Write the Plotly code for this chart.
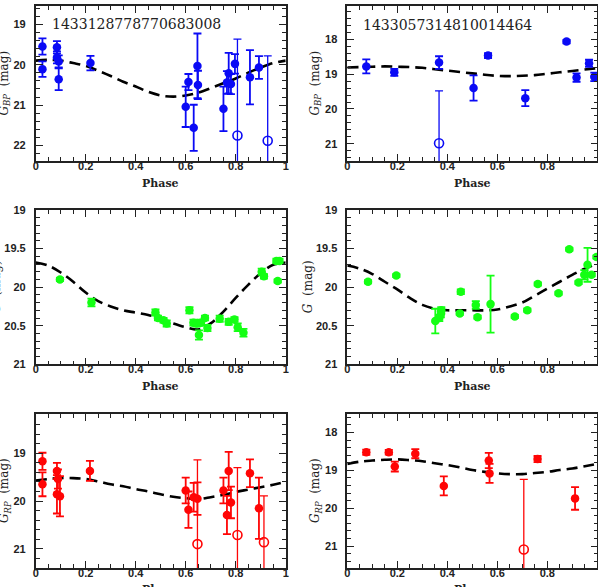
import plotly.graph_objects as go

W, H = 598, 587

# ---------------- data ----------------
phase_grid = [0.00, 0.05, 0.10, 0.15, 0.20, 0.25, 0.30, 0.35, 0.40, 0.45, 0.50,
              0.55, 0.60, 0.65, 0.70, 0.75, 0.80, 0.85, 0.90, 0.95, 1.00]

# star 1433128778770683008
bp1_phase = [0.027, 0.027, 0.085, 0.085, 0.092, 0.092, 0.219, 0.600, 0.611, 0.632,
             0.647, 0.649, 0.751, 0.765, 0.772, 0.781, 0.797, 0.857, 0.893]
bp1_mag = [19.55, 20.11, 19.57, 19.82, 19.92, 20.36, 19.96, 21.04, 20.43, 21.56,
           20.03, 20.50, 21.09, 20.44, 20.21, 20.48, 19.98, 20.31, 20.07]
bp1_err = [0.20, 0.19, 0.15, 0.15, 0.15, 0.27, 0.18, 0.50, 0.20, 0.57,
           0.80, 0.35, 0.55, 0.28, 0.50, 0.25, 0.24, 0.67, 0.28]
bp1_open_phase = [0.807, 0.928]
bp1_open_mag = [21.75, 21.88]
bp1_open_err = [2.38, 2.10]
bp1_model = [19.90, 19.88, 19.90, 19.96, 20.03, 20.15, 20.28, 20.42, 20.54, 20.67, 20.76,
             20.79, 20.76, 20.69, 20.58, 20.46, 20.34, 20.20, 20.07, 19.96, 19.90]

g1_phase = [0.097, 0.223, 0.479, 0.489, 0.511, 0.524, 0.615, 0.631, 0.644, 0.653, 0.661,
            0.677, 0.687, 0.736, 0.772, 0.795, 0.808, 0.831, 0.904, 0.913, 0.963, 0.975, 0.968]
g1_mag = [19.90, 20.20, 20.33, 20.40, 20.43, 20.47, 20.30, 20.46, 20.47, 20.62, 20.46,
          20.40, 20.53, 20.41, 20.45, 20.42, 20.52, 20.59, 19.80, 19.86, 19.66, 19.66, 19.92]
g1_err = [0.02, 0.05, 0.04, 0.03, 0.03, 0.04, 0.04, 0.04, 0.04, 0.06, 0.04,
          0.03, 0.04, 0.04, 0.04, 0.03, 0.05, 0.05, 0.04, 0.03, 0.03, 0.03, 0.02]
g1_model = [19.68, 19.72, 19.81, 19.93, 20.07, 20.18, 20.25, 20.30, 20.33, 20.36, 20.41,
            20.47, 20.52, 20.55, 20.47, 20.32, 20.14, 19.97, 19.82, 19.71, 19.68]

rp1_phase = [0.027, 0.027, 0.085, 0.089, 0.085, 0.097, 0.217, 0.600, 0.611, 0.632,
             0.647, 0.751, 0.765, 0.772, 0.781, 0.857, 0.893]
rp1_mag = [19.17, 19.65, 19.37, 19.54, 19.86, 19.90, 19.37, 19.78, 20.18, 19.92,
           19.95, 19.78, 20.29, 19.37, 20.03, 19.42, 20.15]
rp1_err = [0.18, 0.25, 0.17, 0.20, 0.40, 0.42, 0.21, 0.27, 0.38, 0.30,
           0.34, 0.27, 0.40, 0.40, 0.33, 0.29, 0.64]
rp1_open_phase = [0.647, 0.807, 0.913]
rp1_open_mag = [20.90, 20.71, 20.86]
rp1_open_err = [1.76, 1.41, 0.97]
rp1_model = [19.57, 19.54, 19.52, 19.52, 19.54, 19.59, 19.65, 19.69, 19.75, 19.80, 19.86,
             19.91, 19.94, 19.96, 19.92, 19.87, 19.81, 19.76, 19.71, 19.66, 19.60]

# star 1433057314810014464
bp2_phase = [0.076, 0.188, 0.367, 0.505, 0.563, 0.712, 0.877, 0.917, 0.967, 0.988]
bp2_mag = [18.78, 18.95, 18.67, 19.40, 18.47, 19.69, 18.07, 19.10, 18.69, 19.08]
bp2_err = [0.20, 0.10, 0.18, 0.36, 0.07, 0.23, 0.05, 0.12, 0.10, 0.12]
bp2_open_phase = [0.367]
bp2_open_mag = [20.98]
bp2_open_err = [1.50]
bp2_model = [18.81, 18.80, 18.79, 18.78, 18.79, 18.80, 18.82, 18.86, 18.90, 18.94, 18.98,
             19.02, 19.05, 19.06, 19.05, 19.03, 18.99, 18.95, 18.91, 18.87, 18.83]

g2_phase = [0.083, 0.196, 0.352, 0.368, 0.374, 0.376, 0.450, 0.454, 0.514, 0.521, 0.573,
            0.670, 0.720, 0.762, 0.845, 0.888, 0.925, 0.948, 0.961, 0.977, 0.997]
g2_mag = [19.93, 19.85, 20.44, 20.40, 20.35, 20.30, 20.34, 20.06, 20.23, 20.39, 20.22,
          20.38, 20.30, 19.96, 20.08, 19.51, 19.94, 19.84, 19.71, 19.84, 19.61]
g2_err = [0.02, 0.02, 0.16, 0.04, 0.04, 0.04, 0.02, 0.03, 0.05, 0.02, 0.37,
          0.02, 0.02, 0.02, 0.02, 0.02, 0.02, 0.06, 0.22, 0.02, 0.02]
g2_model = [19.72, 19.76, 19.83, 19.93, 20.03, 20.14, 20.23, 20.28, 20.30, 20.30, 20.30,
            20.30, 20.29, 20.25, 20.20, 20.11, 20.02, 19.93, 19.84, 19.76, 19.70]

rp2_phase = [0.076, 0.166, 0.190, 0.272, 0.386, 0.566, 0.569, 0.761, 0.911]
rp2_mag = [18.52, 18.52, 18.90, 18.56, 19.41, 18.74, 19.08, 18.70, 19.74]
rp2_err = [0.07, 0.06, 0.13, 0.12, 0.25, 0.20, 0.25, 0.08, 0.30]
rp2_open_phase = [0.706]
rp2_open_mag = [21.09]
rp2_open_err = [1.85]
rp2_model = [18.83, 18.77, 18.74, 18.72, 18.71, 18.73, 18.76, 18.81, 18.86, 18.92, 18.99,
             19.04, 19.08, 19.10, 19.10, 19.07, 19.04, 18.99, 18.95, 18.89, 18.83]

star_ids = ["1433128778770683008", "1433057314810014464"]

BLUE, GREEN, RED = "#0a0af5", "#14ff14", "#ff0505"
INK = "#222222"


def px_x(v):
    return v / W


def px_y(v):
    return 1 - v / H


panels = [
    dict(p=bp1_phase, m=bp1_mag, e=bp1_err, op=bp1_open_phase, om=bp1_open_mag, oe=bp1_open_err,
         model=bp1_model, c=BLUE, yr=[22.38, 18.55], yt=[19, 20, 21, 22], ym=0.2,
         xpx=(35.7, 285.7), ypx=(6, 161), title="<i>G</i><sub><i>BP</i></sub>  (mag)", tx=5),
    dict(p=bp2_phase, m=bp2_mag, e=bp2_err, op=bp2_open_phase, om=bp2_open_mag, oe=bp2_open_err,
         model=bp2_model, c=BLUE, yr=[21.49, 17.05], yt=[18, 19, 20, 21], ym=0.2,
         xpx=(347.3, 597.3), ypx=(6, 161), title="<i>G</i><sub><i>BP</i></sub>  (mag)", tx=316),
    dict(p=g1_phase, m=g1_mag, e=g1_err, op=[], om=[], oe=[],
         model=g1_model, c=GREEN, yr=[21.0, 19.0], yt=[19, 19.5, 20, 20.5, 21], ym=0.1,
         xpx=(35.7, 285.7), ypx=(210, 364.3), title="<i>G</i>  (mag)", tx=-4),
    dict(p=g2_phase, m=g2_mag, e=g2_err, op=[], om=[], oe=[],
         model=g2_model, c=GREEN, yr=[21.0, 19.0], yt=[19, 19.5, 20, 20.5, 21], ym=0.1,
         xpx=(347.3, 597.3), ypx=(210, 364.3), title="<i>G</i>  (mag)", tx=308),
    dict(p=rp1_phase, m=rp1_mag, e=rp1_err, op=rp1_open_phase, om=rp1_open_mag, oe=rp1_open_err,
         model=rp1_model, c=RED, yr=[21.40, 18.18], yt=[19, 20, 21], ym=0.2,
         xpx=(35.7, 285.7), ypx=(414, 568), title="<i>G</i><sub><i>RP</i></sub>  (mag)", tx=5),
    dict(p=rp2_phase, m=rp2_mag, e=rp2_err, op=rp2_open_phase, om=rp2_open_mag, oe=rp2_open_err,
         model=rp2_model, c=RED, yr=[21.58, 17.51], yt=[18, 19, 20, 21], ym=0.2,
         xpx=(347.3, 597.3), ypx=(414, 568), title="<i>G</i><sub><i>RP</i></sub>  (mag)", tx=316),
]

tick_font = dict(family="Liberation Sans", size=11, color=INK, weight="bold")
axis_common = dict(showline=True, linecolor=INK, linewidth=1.6, mirror="allticks",
                   ticks="inside", ticklen=7, tickwidth=1.4, tickcolor=INK,
                   showgrid=False, zeroline=False, automargin=False, tickfont=tick_font)

fig = go.Figure()
annotations = []

for i, pn in enumerate(panels):
    n = "" if i == 0 else str(i + 1)
    xa, ya = "x" + n, "y" + n

    # model curve
    fig.add_trace(go.Scatter(x=phase_grid, y=pn["model"], mode="lines", xaxis=xa, yaxis=ya,
                             line=dict(color="black", width=2.6, dash="11px,6px", shape="spline"),
                             showlegend=False, hoverinfo="skip"))
    # measured points
    fig.add_trace(go.Scatter(x=pn["p"], y=pn["m"], mode="markers", xaxis=xa, yaxis=ya,
                             marker=dict(color=pn["c"], size=8.5, line=dict(width=0)),
                             error_y=dict(type="data", array=pn["e"], color=pn["c"],
                                          thickness=1.8, width=4),
                             showlegend=False))
    if pn["op"]:
        fig.add_trace(go.Scatter(x=pn["op"], y=pn["om"], mode="markers", xaxis=xa, yaxis=ya,
                                 marker=dict(color=pn["c"], size=9, symbol="circle-open",
                                             line=dict(width=1.6, color=pn["c"])),
                                 error_y=dict(type="data", array=pn["oe"], color=pn["c"],
                                              thickness=1.3, width=4),
                                 showlegend=False))

    xdom = [px_x(pn["xpx"][0]), min(px_x(pn["xpx"][1]), 1.0)]
    ydom = [px_y(pn["ypx"][1]), px_y(pn["ypx"][0])]
    fig.layout["xaxis" + n] = dict(axis_common, domain=xdom, anchor=ya, range=[0, 1],
                                   tickvals=[0, 0.2, 0.4, 0.6, 0.8, 1],
                                   ticktext=["0", "0.2", "0.4", "0.6", "0.8", "1"],
                                   ticklabelstandoff=-6,
                                   minor=dict(dtick=0.05, tick0=0, ticks="inside", ticklen=4,
                                              tickwidth=1.2, tickcolor=INK, showgrid=False))
    fig.layout["yaxis" + n] = dict(axis_common, domain=ydom, anchor=xa, range=pn["yr"],
                                   tickvals=pn["yt"], ticktext=[f"{v:g}" for v in pn["yt"]],
                                   ticklabelstandoff=6,
                                   minor=dict(dtick=pn["ym"], tick0=0, ticks="inside", ticklen=4,
                                              tickwidth=1.2, tickcolor=INK, showgrid=False))

    # axis titles
    cx = (pn["xpx"][0] + pn["xpx"][1]) / 2
    annotations.append(dict(text="Phase", xref="paper", yref="paper", x=px_x(cx),
                            y=px_y(pn["ypx"][1] + 22), xanchor="center", yanchor="middle",
                            showarrow=False,
                            font=dict(family="DejaVu Serif", size=11, color=INK, weight="bold")))
    annotations.append(dict(text=pn["title"], xref="paper", yref="paper", x=px_x(pn["tx"]),
                            y=px_y((pn["ypx"][0] + pn["ypx"][1]) / 2), textangle=-90,
                            xanchor="center", yanchor="middle", showarrow=False,
                            font=dict(family="DejaVu Serif", size=12, color=INK)))

# star identifiers
annotations.append(dict(text=star_ids[0], xref="paper", yref="paper", x=px_x(50), y=px_y(24.5),
                        xanchor="left", yanchor="middle", showarrow=False,
                        font=dict(family="DejaVu Serif", size=14, color=INK)))
annotations.append(dict(text=star_ids[1], xref="paper", yref="paper", x=px_x(361), y=px_y(25.5),
                        xanchor="left", yanchor="middle", showarrow=False,
                        font=dict(family="DejaVu Serif", size=14, color=INK)))

fig.update_layout(width=W, height=H, margin=dict(l=0, r=0, t=0, b=0),
                  paper_bgcolor="white", plot_bgcolor="white",
                  annotations=annotations, showlegend=False)

# drop the browser's default body margin so the figure fills the window
fig.write_html("out.html", config={"displayModeBar": False},
               post_script="document.body.style.margin='0';")
